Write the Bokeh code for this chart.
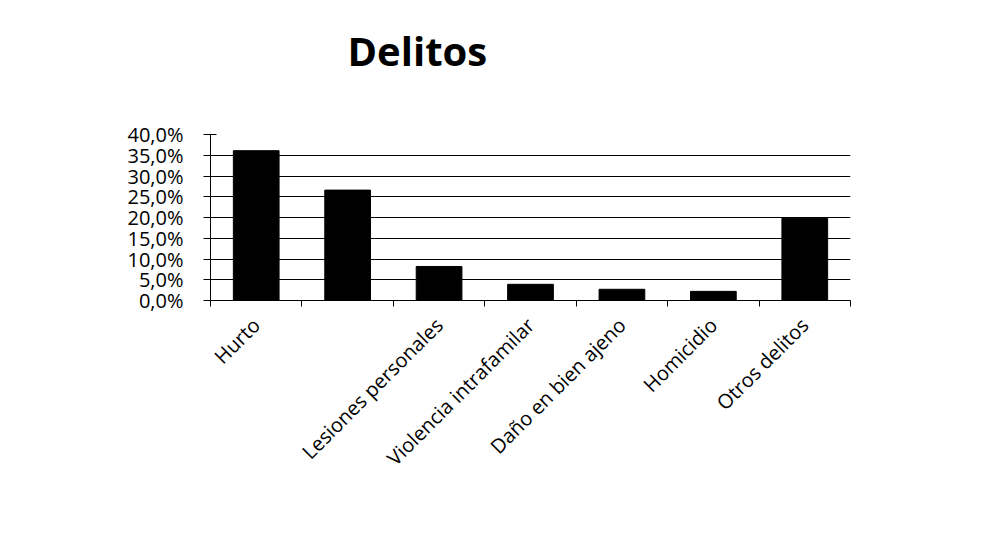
from bokeh.plotting import figure
from bokeh.models import FixedTicker, Range1d, Title, ColumnDataSource
from bokeh.embed import file_html
from bokeh.resources import INLINE
from math import pi

# 7 bars; Excel skipped the label of the second category
categories = ["Hurto", "Lesiones personales", "Violencia intrafamilar",
              "Daño en bien ajeno", "Homicidio", "Otros delitos"]
x_label_positions = [0.5, 2.5, 3.5, 4.5, 5.5, 6.5]
bar_values = [36.1, 26.6, 8.2, 3.9, 2.7, 2.2, 19.8]
tick_values = [0, 5, 10, 15, 20, 25, 30, 35, 40]
tick_labels = ["0,0%", "5,0%", "10,0%", "15,0%", "20,0%", "25,0%", "30,0%", "35,0%", "40,0%"]
title_text = "Delitos"

W, H = 995, 557
FRAME_LEFT, FRAME_BOTTOM = 210, 300
p = figure(width=W, height=H, output_backend="svg", toolbar_location=None,
           x_range=Range1d(0, 7), y_range=Range1d(0, 40),
           min_border_left=FRAME_LEFT, min_border_right=145,
           min_border_top=134, min_border_bottom=257)
p.outline_line_color = None
p.background_fill_color = "white"
p.border_fill_color = "white"

# a trailing blank line lifts the title higher above the frame
p.title = Title(text=title_text + "\n ", align="left", offset=137, standoff=4,
                vertical_align="bottom",
                text_font="Open Sans", text_font_size="40px", text_font_style="bold",
                text_color="black")

xs = [i + 0.5 for i in range(len(bar_values))]
src = ColumnDataSource(dict(x=xs, top=bar_values))
p.vbar(x="x", top="top", width=0.5, bottom=0, source=src,
       fill_color="black", line_color="black")

# x axis
p.xaxis.ticker = FixedTicker(ticks=x_label_positions, minor_ticks=list(range(8)))
p.xaxis.major_label_overrides = {float(v): c for v, c in zip(x_label_positions, categories)}
p.xaxis.major_tick_line_color = None
p.xaxis.minor_tick_line_color = "black"
p.xaxis.minor_tick_out = 6
p.xaxis.minor_tick_in = 0
p.xaxis.major_label_orientation = pi / 4
p.xaxis.major_label_text_font = "Open Sans"
p.xaxis.major_label_text_font_size = "20px"
p.xaxis.major_label_text_color = "black"
p.xaxis.axis_line_color = "black"
p.xaxis.major_label_standoff = 15

# y axis
p.yaxis.ticker = FixedTicker(ticks=tick_values)
p.yaxis.major_label_overrides = {v: l for v, l in zip(tick_values, tick_labels)}
p.yaxis.major_tick_in = 6
p.yaxis.major_tick_out = 7
p.yaxis.minor_tick_line_color = None
p.yaxis.major_tick_line_color = "black"
p.yaxis.axis_line_color = "black"
p.yaxis.major_label_text_font = "Open Sans"
p.yaxis.major_label_text_font_size = "20px"
p.yaxis.major_label_text_color = "black"
p.yaxis.major_label_standoff = 20

p.xgrid.grid_line_color = None
p.ygrid.grid_line_color = "black"
p.ygrid.grid_line_width = 1

open("out.html", "w").write(file_html(p, INLINE))
